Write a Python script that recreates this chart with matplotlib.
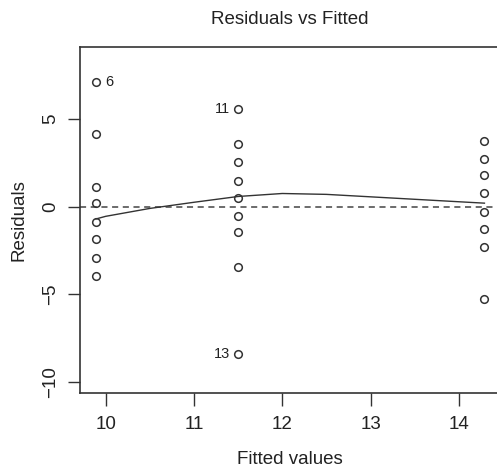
import matplotlib
matplotlib.use("Agg")
import matplotlib.pyplot as plt

plt.rcParams['font.family'] = ['Liberation Sans', 'DejaVu Sans']

# fitted values for each group and the residuals
fit_a = 9.89
fit_b = 11.5
fit_c = 14.29
res_a = [7.08, 4.12, 1.12, 0.19, -0.89, -1.86, -2.9, -3.95]
res_b = [5.55, 3.55, 2.53, 1.48, 0.48, -0.51, -1.46, -3.45, -8.4]
res_c = [3.76, 2.73, 1.81, 0.76, -0.32, -1.29, -2.31, -5.26]

# smoother curve
smooth_x = [9.89, 10.0, 10.5, 11.0, 11.5, 12.0, 12.5, 13.0, 13.5, 14.0, 14.29]
smooth_y = [-0.7, -0.55, -0.1, 0.25, 0.58, 0.75, 0.7, 0.56, 0.42, 0.28, 0.2]

# labelled points: (id, x, y, side)
labels = [("6", fit_a, 7.08, "right"), ("11", fit_b, 5.55, "left"), ("13", fit_b, -8.4, "left")]

xticks = [10, 11, 12, 13, 14]
yticks = [-10, -5, 0, 5]

fig = plt.figure(figsize=(4.97, 4.70), dpi=100)
ax = fig.add_axes([0.1618, 0.1645, 0.8442, 0.7355])

xs = [fit_a] * len(res_a) + [fit_b] * len(res_b) + [fit_c] * len(res_c)
ys = res_a + res_b + res_c
ax.plot(xs, ys, 'o', ms=5.5, mfc='none', mec='#333333', mew=1.1, zorder=3)

ax.axhline(0, color='#444444', ls=(0, (4, 3)), lw=1.1)
ax.plot(smooth_x, smooth_y, color='#333333', lw=1.0)

for txt, x, y, side in labels:
    if side == "right":
        ax.annotate(txt, (x, y), xytext=(7, 0), textcoords='offset points',
                    ha='left', va='center', fontsize=10.5, color='#222222')
    else:
        ax.annotate(txt, (x, y), xytext=(-6, 0), textcoords='offset points',
                    ha='right', va='center', fontsize=10.5, color='#222222')

ax.set_xlim(9.714, 14.466)
ax.set_ylim(-10.59, 9.09)
ax.set_xticks(xticks)
ax.set_yticks(yticks)
ax.set_yticklabels([str(v).replace('-', '\u2212') for v in yticks], rotation=90, va='center')
ax.tick_params(direction='out', length=9, width=1, color='#333333', labelsize=13.5,
               labelcolor='#222222', pad=8)
ax.tick_params(axis='y', pad=6)
for s in ax.spines.values():
    s.set_color('#333333')
    s.set_linewidth(1.2)

ax.set_xlabel('Fitted values', fontsize=13.5, color='#222222', labelpad=13)
ax.set_ylabel('Residuals', fontsize=13.5, color='#222222', labelpad=11)
fig.text(0.584, 0.958, 'Residuals vs Fitted', ha='center', va='center', fontsize=13.5, color='#222222')

fig.savefig('out.png', dpi=100)
